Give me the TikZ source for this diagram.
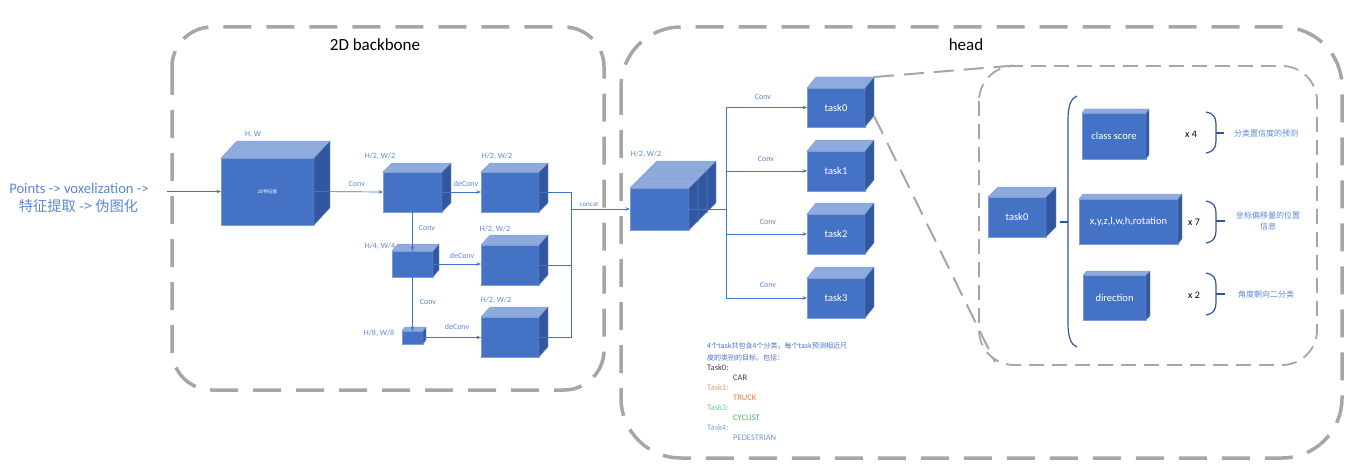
\documentclass[tikz,border=0pt]{standalone}
\usepackage{fontspec}
\setmainfont{Carlito}
\newfontfamily\cjk{Noto Sans CJK SC}
\usetikzlibrary{arrows.meta}
\definecolor{cfront}{HTML}{4472C4}
\definecolor{ctop}{HTML}{8FAADC}
\definecolor{cside}{HTML}{3157A0}
\definecolor{cedge}{HTML}{7E9DD6}
\definecolor{cblue}{HTML}{4472C4}
\definecolor{ctext}{HTML}{5B87D2}
\definecolor{cgray}{HTML}{A6A6A6}
\definecolor{cbrace}{HTML}{2F5597}
\definecolor{tzero}{HTML}{404040}
\definecolor{tonea}{HTML}{EE9A62}
\definecolor{toneb}{HTML}{E67E3A}
\definecolor{ttwoa}{HTML}{6CCF8A}
\definecolor{ttwob}{HTML}{3BBF63}
\definecolor{tthra}{HTML}{84A4DA}
\definecolor{tthrb}{HTML}{7397D6}
\newcommand\fsz[1]{\fontsize{#1}{#1}\selectfont}
\tikzset{
  cubefront/.style={fill=cfront, draw=cedge, line width=0.4pt, inner sep=0pt, outer sep=0pt, text=white},
  cubetop/.style={fill=ctop, draw=cedge, line width=0.4pt},
  cubeside/.style={fill=cside, draw=cedge, line width=0.4pt},
  lbl/.style={text=ctext, font=\fsz{8}, inner sep=0pt},
  conn/.style={draw=cblue, line width=0.7pt},
  arr/.style={conn, -{Stealth[length=4.5pt,width=3.5pt]}},
  bigdash/.style={draw=cgray, line width=3.5pt, dash pattern=on 28pt off 15pt},
  smalldash/.style={draw=cgray, line width=1.8pt, dash pattern=on 15pt off 8pt, rounded corners=35pt},
  zoomdash/.style={draw=cgray, line width=2pt, dash pattern=on 20pt off 10pt},
  title/.style={font=\fsz{17}, text=black, inner sep=0pt},
  brace/.style={draw=cbrace, line width=1.2pt},
  note/.style={font=\fsz{8.5}, inner sep=0pt, anchor=west},
  cjknote/.style={font=\cjk\fsz{7}, text=cblue, inner sep=0pt, anchor=west},
  side/.style={font=\cjk\fsz{8}, text=ctext, inner sep=0pt, align=center},
  mult/.style={font=\fsz{10}, text=black, inner sep=0pt}
}
% name, cx, cy, w, h, dx, dy, text
\newcommand\cuboid[8]{%
  \node[cubefront, minimum width=#4pt, minimum height=#5pt] (#1) at (#2,#3) {#8};
  \filldraw[cubetop] (#1.north west) -- ++(#6,-#7) -- ++(#4,0) -- (#1.north east) -- cycle;
  \filldraw[cubeside] (#1.north east) -- ++(#6,-#7) -- ++(0,#5) -- (#1.south east) -- cycle;
}
\begin{document}
\begin{tikzpicture}[x=1pt,y=-1pt]
\useasboundingbox (0,0) rectangle (1359,468);
% frames
\draw[bigdash, rounded corners=40pt] (172,27) rectangle (604,390);
\draw[bigdash, rounded corners=60pt] (621,27) rectangle (1342,458);
\draw[smalldash] (979,66) rectangle (1317,365);
\node[title] (tbb) at (375,45) {2D backbone};
\node[title] (thd) at (966,45) {head};

% input text
\node[text=ctext, font=\fsz{14.6}, align=center, inner sep=0pt] (intext) at (79,188) {Points -> voxelization ->};
\node[text=ctext, font=\cjk\fsz{14.3}, inner sep=0pt] (intext2) at (78.5,206) {特征提取 -> 伪图化};
\coordinate (inp) at (167,191.5);

% backbone cubes
\cuboid{bb}{267.5}{191.5}{93}{67}{16}{17}{\cjk\fsz{4.5}2D特征图}
\cuboid{b1}{412.5}{192}{59}{40}{9}{9}{}
\cuboid{b2}{510}{192}{58}{40}{9}{9}{}
\cuboid{b3}{510}{265}{58}{40}{9}{10}{}
\cuboid{b4}{510}{337}{58}{40}{9}{10}{}
\cuboid{c1}{412.5}{264}{41}{26}{6}{7}{}
\cuboid{d1}{412.5}{337.5}{21}{13}{3}{4}{}

\node[lbl] (lhw) at (253,134) {H, W};
\node[lbl] (lb1) at (380,156) {H/2, W/2};
\node[lbl] (lb2) at (497,156) {H/2, W/2};
\node[lbl] (lb3) at (495,229) {H/2, W/2};
\node[lbl] (lb4) at (496,300) {H/2, W/2};
\node[lbl] (lc1) at (380,246) {H/4, W/4};
\node[lbl] (ld1) at (379,333) {H/8, W/8};

% concat cube
\cuboid{catc}{677.5}{191}{59}{42}{9}{9}{}
\cuboid{catb}{668.5}{200}{59}{42}{9}{9}{}
\cuboid{cat}{659.5}{209}{59}{42}{9}{9}{}
\node[lbl] (lcat) at (646,154) {H/2, W/2};

% tasks
\cuboid{t0}{836}{107.5}{58}{39}{9}{11}{\fsz{10.5}task0}
\cuboid{t1}{836}{171}{58}{40}{9}{11}{\fsz{10.5}task1}
\cuboid{t2}{836}{234}{58}{40}{9}{11}{\fsz{10.5}task2}
\cuboid{t3}{836}{298}{58}{40}{9}{11}{\fsz{10.5}task3}

% connectors backbone
\draw[arr] (inp) -- (bb.west);
\draw[arr] (bb.east) -- (b1.west) node[lbl, pos=0.62, above=5pt] (lconv1) {Conv};
\draw[arr] (b1.east) -- (b2.west);
\node[lbl] (ldc1) at (466,184) {deConv};
\draw[arr] (b1.south) -- (c1.north);
\node[lbl] (lconv2) at (427,228) {Conv};
\draw[arr] (c1.south) -- (d1.north);
\node[lbl] (lconv3) at (428,302) {Conv};
\draw[arr] (c1.east) -- (c1.east -| b3.west);
\node[lbl] (ldc2) at (462,256) {deConv};
\draw[arr] (d1.east) -- (d1.east -| b4.west);
\node[lbl] (ldc3) at (457,327) {deConv};

\coordinate (cc) at (571,209);
\draw[conn] (b2.east) -| (cc);
\draw[conn] (b3.east) -| (cc);
\draw[conn] (b4.east) -| (cc);
\draw[arr] (cc) -- (cat.west);
\node[lbl, font=\fsz{7}] (lconcat) at (589,204) {concat};

% head connectors
\coordinate (sp) at (726,209);
\draw[conn] (cat.east) -- (sp);
\draw[arr] (sp) |- (t0.west);
\draw[arr] (sp) |- (t1.west);
\draw[arr] (sp) |- (t2.west);
\draw[arr] (sp) |- (t3.west);
\node[lbl] (lh0) at (763,97) {Conv};
\node[lbl] (lh1) at (766,159) {Conv};
\node[lbl] (lh2) at (768,222) {Conv};
\node[lbl] (lh3) at (768,285) {Conv};

% zoom lines
\coordinate (za) at (1015,65.5);
\coordinate (zb) at (995,362);
\draw[zoomdash] ([shift={(9,-11)}]t0.north east) -- (za);
\draw[zoomdash] ([shift={(9,-11)}]t0.south east) -- (zb);

% note text
\node[cjknote] (n1) at (707,346) {4个task共包含4个分类，每个task预测相近尺};
\node[cjknote] (n2) at (707,358) {度的类别的目标。包括：};
\node[note, text=tzero] (k0) at (707,368) {Task0:};
\node[note, text=tzero] (v0) at (733,378) {CAR};
\node[note, text=tonea] (k1) at (707,388) {Task1:};
\node[note, text=toneb] (v1) at (733,398) {TRUCK};
\node[note, text=ttwoa] (k2) at (707,408) {Task3:};
\node[note, text=ttwob] (v2) at (733,418) {CYCLIST};
\node[note, text=tthra] (k3) at (707,428) {Task4:};
\node[note, text=tthrb] (v3) at (733,438) {PEDESTRIAN};

% detail
\cuboid{r0}{1017}{217}{58}{40}{10}{10}{\fsz{10.5}task0}
\cuboid{cs}{1114}{136}{64}{46}{3}{4}{\fsz{10.5}class score}
\cuboid{xyz}{1128.5}{221.5}{99}{45}{4}{5}{\fsz{10.5}x,y,z,l,w,h,rotation}
\cuboid{dir}{1114.5}{297.5}{63}{45}{4}{4}{\fsz{10.5}direction}

\draw[brace] (1077,96) .. controls (1071,98) and (1068,106) .. (1068,120) -- (1068,323) .. controls (1068,337) and (1071,345) .. (1077,347);
\draw[brace] (1060,222) -- (1068,222);

\draw[brace] (1206,112) .. controls (1213,113) and (1216,117) .. (1216,124) -- (1216,141) .. controls (1216,148) and (1213,152) .. (1206,153);
\draw[brace] (1216,133) -- (1224,133);
\draw[brace] (1206,201) .. controls (1213,202) and (1216,206) .. (1216,213) -- (1216,231) .. controls (1216,238) and (1213,242) .. (1206,243);
\draw[brace] (1216,221) -- (1225,221);
\draw[brace] (1206,273) .. controls (1213,274) and (1216,278) .. (1216,285) -- (1216,303) .. controls (1216,310) and (1213,314) .. (1206,315);
\draw[brace] (1216,294) -- (1225,294);

\node[mult] (m4) at (1191,134) {x 4};
\node[mult] (m7) at (1194,222) {x 7};
\node[mult] (m2) at (1194,295) {x 2};

\node[side] (s1) at (1266,133) {分类置信度的预测};
\node[side, font=\cjk\fontsize{8}{11}\selectfont] (s2) at (1268,221) {坐标偏移量的位置\\信息};
\node[side] (s3) at (1266,294) {角度朝向二分类};
\end{tikzpicture}
\end{document}
